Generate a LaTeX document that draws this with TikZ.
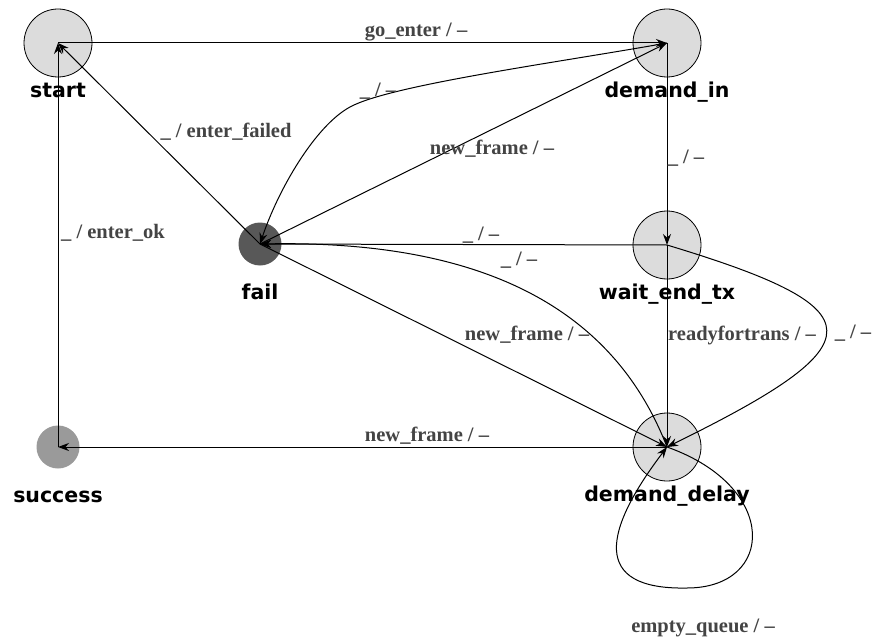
\documentclass[tikz,border=0pt]{standalone}
\usepackage{fontspec}
\setmainfont{Liberation Serif}
\newfontfamily\statefont{DejaVu Sans}
\usetikzlibrary{arrows.meta}
\definecolor{stategray}{HTML}{DCDCDC}
\definecolor{failgray}{HTML}{585858}
\definecolor{successgray}{HTML}{9A9A9A}
\definecolor{labelgray}{HTML}{444444}
\begin{document}
\begin{tikzpicture}[x=1pt,y=-1pt,
  state/.style={circle, minimum size=68pt, inner sep=0pt, fill=stategray, draw=black, line width=0.8pt},
  smallstate/.style={circle, minimum size=43pt, inner sep=0pt, draw=none},
  statename/.style={anchor=base, inner sep=0pt, font=\statefont\bfseries\fontsize{20.5}{24}\selectfont},
  trans/.style={draw=black, line width=1pt, -{Stealth[length=11pt,width=8pt]}},
  translabel/.style={anchor=base, inner sep=0pt, text=labelgray, font=\bfseries\fontsize{20.5}{24}\selectfont},
]
\fill[white] (0,0) rectangle (874,639);
\useasboundingbox (0,0) rectangle (874,639);

% states
\node[state] (start) at (58,43) {};
\node[state] (demandin) at (667,43) {};
\node[state] (wait) at (667,245) {};
\node[state] (delay) at (667,447) {};
\node[smallstate, fill=failgray] (fail) at (260,244) {};
\node[smallstate, fill=successgray] (success) at (58,447) {};

% state names
\node[statename] (nstart) at (58,98) {start};
\node[statename] (ndemandin) at (667,98) {demand\_in};
\node[statename] (nwait) at (667,299) {wait\_end\_tx};
\node[statename] (ndelay) at (667,501) {demand\_delay};
\node[statename] (nfail) at (260,299) {fail};
\node[statename] (nsuccess) at (58,502) {success};

% transitions
\draw[trans] (start.center) -- (demandin.center);
\draw[trans] (success.center) -- (start.center);
\draw[trans] (fail.center) -- (start.center);
\draw[trans] (fail.center) -- (demandin.center);
\draw[trans] (demandin.center) .. controls (558,62.5) and (390,85) .. (350,107)
                               .. controls (315,126) and (278,190) .. (fail.center);
\draw[trans] (demandin.center) -- (wait.center);
\draw[trans] (wait.center) -- (fail.center);
\draw[trans] (delay.center) .. controls (610,300) and (470,240) .. (fail.center);
\draw[trans] (fail.center) -- (delay.center);
\draw[trans] (wait.center) -- (delay.center);
\draw[trans] (wait.center) .. controls (879,309) and (879,343) .. (delay.center);
\draw[trans] (delay.center) -- (success.center);
\draw[trans] (delay.center) .. controls (780,487) and (775,588) .. (687,588)
                            .. controls (590,590) and (604,530) .. (delay.center);

% transition labels
\node[translabel] (t1) at (416,37) {go\_enter / --};
\node[translabel] (t2) at (378,97) {\_ / --};
\node[translabel] (t3) at (492,155) {new\_frame / --};
\node[translabel] (t4) at (226,138) {\_ / enter\_failed};
\node[translabel] (t5) at (113,238) {\_ / enter\_ok};
\node[translabel] (t6) at (686,164) {\_ / --};
\node[translabel] (t7) at (481,240) {\_ / --};
\node[translabel] (t8) at (519,265) {\_ / --};
\node[translabel] (t9) at (527,340) {new\_frame / --};
\node[translabel] (t10) at (742,340) {readyfortrans / --};
\node[translabel] (t11) at (853,338) {\_ / --};
\node[translabel] (t12) at (427,441) {new\_frame / --};
\node[translabel] (t13) at (703,632) {empty\_queue / --};
\end{tikzpicture}
\end{document}
